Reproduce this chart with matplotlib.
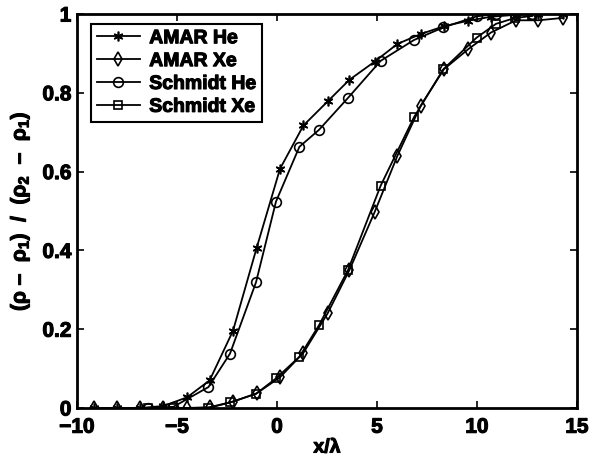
import matplotlib
matplotlib.use("Agg")
import matplotlib.pyplot as plt
import matplotlib.ticker as mticker
import matplotlib.patheffects as pe

plt.rcParams['font.family'] = ['Liberation Sans', 'DejaVu Sans']
plt.rcParams['font.weight'] = 'bold'
plt.rcParams['axes.labelweight'] = 'bold'
plt.rcParams['axes.unicode_minus'] = True
plt.rcParams['mathtext.fontset'] = 'custom'
plt.rcParams['mathtext.rm'] = 'Liberation Sans:bold'
plt.rcParams['mathtext.bf'] = 'Liberation Sans:bold'
plt.rcParams['mathtext.default'] = 'bf'

# AMAR runs share one x grid
amar_x = [-9.15, -8.0, -6.85, -5.68, -4.5, -3.37, -2.2, -1.02, 0.15, 1.32, 2.53,
          3.62, 4.88, 6.02, 7.18, 8.35, 9.57, 10.7, 11.95, 13.07, 14.28]
amar_he = [0.0, 0.0, 0.0, 0.005, 0.027, 0.07, 0.196, 0.406, 0.607, 0.717, 0.778,
           0.833, 0.879, 0.924, 0.949, 0.969, 0.983, 0.993, 0.998, 1.0, 1.0]
amar_xe = [0.0, 0.0, 0.0, 0.0, 0.0, 0.002, 0.016, 0.037, 0.078, 0.14, 0.24,
           0.35, 0.497, 0.64, 0.767, 0.86, 0.911, 0.953, 0.984, 0.984, 0.99]

# Schmidt runs
schmidt_x = [-6.43, -5.18, -3.43, -2.35, -1.05, -0.05, 1.12, 2.1, 3.55, 5.18,
             6.85, 8.32, 9.98, 10.95, 11.9, 12.77]
schmidt_he = [0.0, 0.003, 0.053, 0.138, 0.319, 0.524, 0.663, 0.706, 0.787, 0.881,
              0.934, 0.966, 0.994, 1.0, 1.0, 1.0]
schmidt_xe = [0.0, 0.0, 0.0, 0.014, 0.036, 0.075, 0.13, 0.21, 0.35, 0.564,
              0.738, 0.86, 0.94, 0.975, 0.99, 0.995]

fig = plt.figure(figsize=(5.91, 4.6), dpi=100)
ax = fig.add_axes([0.1303, 0.1109, 0.846, 0.8565])

kw = dict(color='black', linewidth=1.3, markersize=7, markeredgewidth=1.2)
ax.plot(amar_x, amar_he, marker=(6, 2, 0), label='AMAR He', **kw)
ax.plot(amar_x, amar_xe, marker='d', markerfacecolor='none', label='AMAR Xe', **kw)
ax.plot(schmidt_x, schmidt_he, marker='o', markerfacecolor='none', label='Schmidt He', **kw)
ax.plot(schmidt_x, schmidt_xe, marker='s', markerfacecolor='none', markersize=6,
        color='black', linewidth=1.3, markeredgewidth=1.2, label='Schmidt Xe')

ax.set_xlim(-10, 15)
ax.set_ylim(0, 1)
ax.set_xticks([-10, -5, 0, 5, 10, 15])
ax.set_yticks([0, 0.2, 0.4, 0.6, 0.8, 1])
ax.yaxis.set_major_formatter(mticker.FormatStrFormatter('%g'))
ax.tick_params(direction='in', top=True, right=True, length=5, width=1.2,
               labelsize=15)
ax.tick_params(axis='x', pad=7)
ax.tick_params(axis='y', pad=4)
for s in ax.spines.values():
    s.set_linewidth(2)

ax.set_xlabel('x/λ', fontsize=14, labelpad=2)
ax.set_ylabel('(ρ –  ρ$_1$)  /  (ρ$_2$  –  ρ$_1$)', fontsize=15, labelpad=8)

leg = ax.legend(loc='upper left', bbox_to_anchor=(0.02, 0.985), fontsize=14,
                frameon=True, fancybox=False, edgecolor='black', framealpha=1,
                labelspacing=0.27, handlelength=2.2, handletextpad=0.5,
                borderpad=0.3, borderaxespad=0.2)
leg.get_frame().set_linewidth(1.5)

heavy = [pe.withStroke(linewidth=0.8, foreground='black')]
texts = ax.get_xticklabels() + ax.get_yticklabels() + leg.get_texts()
texts += [ax.xaxis.label, ax.yaxis.label]
for t in texts:
    t.set_path_effects(heavy)

fig.savefig('out.png', dpi=100)
